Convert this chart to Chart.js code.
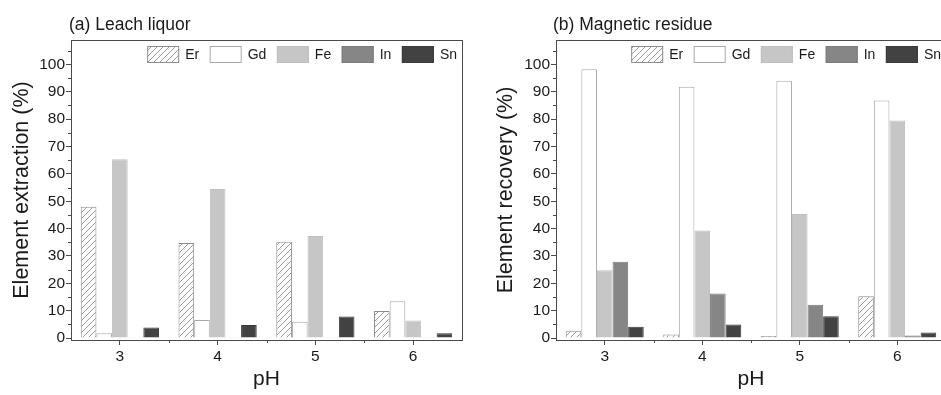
<!DOCTYPE html>
<html>
<head>
<meta charset="utf-8">
<script src="https://cdn.jsdelivr.net/npm/chart.js@4.4.1/dist/chart.umd.min.js"></script>
<style>
  html, body { margin: 0; padding: 0; background: #fff; overflow: hidden; }
  #wrap { position: relative; width: 941px; height: 395px; overflow: hidden; }
  .panel { position: absolute; top: 0; }
  .ttl { position: absolute; top: 14px; font: 17.5px 'Liberation Sans', Arial, sans-serif; color: #1a1a1a; line-height: 20px; white-space: nowrap; }
</style>
</head>
<body>
<div id="wrap">
  <canvas id="leach" class="panel" style="left:0px" width="470" height="395"></canvas>
  <canvas id="residue" class="panel" style="left:470px" width="480" height="395"></canvas>
  <div class="ttl" style="left:69px">(a) Leach liquor</div>
  <div class="ttl" style="left:553px">(b) Magnetic residue</div>
</div>
<script>
// pH values on the x axis and the element series
const phLabels = ['3', '4', '5', '6'];
const elementNames = ['Er', 'Gd', 'Fe', 'In', 'Sn'];
const yTicks = [0, 10, 20, 30, 40, 50, 60, 70, 80, 90, 100];
const yMinorTicks = [5, 15, 25, 35, 45, 55, 65, 75, 85, 95, 105];

// (a) Leach liquor, extraction %
const leachEr = [48.0, 34.7, 35.2, 9.9];
const leachGd = [1.8, 6.6, 6.0, 13.5];
const leachFe = [65.3, 54.5, 37.3, 6.4];
const leachIn = [0.3, 0.3, 0.3, 0.3];
const leachSn = [3.9, 4.8, 7.9, 1.8];

// (b) Magnetic residue, recovery %
const residueEr = [2.7, 1.3, 0.8, 15.3];
const residueGd = [98.2, 91.8, 94.0, 86.8];
const residueFe = [24.8, 39.3, 45.3, 79.5];
const residueIn = [27.9, 16.3, 12.2, 0.9];
const residueSn = [4.1, 5.0, 8.0, 2.0];

const FONT = "'Liberation Sans', Arial, sans-serif";
const AXIS = '#4a4a4a';
const TEXT = '#1a1a1a';

// diagonal hatch for Er
function hatch() {
    const c = document.createElement('canvas');
    c.width = 6; c.height = 6;
    const g = c.getContext('2d');
    g.fillStyle = '#fff';
    g.fillRect(0, 0, 6, 6);
    g.strokeStyle = '#9a9a9a';
    g.lineWidth = 1;
    g.beginPath();
    g.moveTo(0, 6); g.lineTo(6, 0);
    g.moveTo(-1, 1); g.lineTo(1, -1);
    g.moveTo(5, 7); g.lineTo(7, 5);
    g.stroke();
    return g.createPattern(c, 'repeat');
}

const barStyles = [
    { bg: hatch(), border: '#8c8c8c' },
    { bg: '#ffffff', border: '#a8a8a8' },
    { bg: '#c6c6c6', border: '#bfbfbf' },
    { bg: '#868686', border: '#7c7c7c' },
    { bg: '#424242', border: '#3a3a3a' }
];

// box around the plot + minor ticks
const framePlugin = {
    id: 'frame',
    afterDraw(chart) {
        const { ctx, chartArea: a, scales: { x, y } } = chart;
        ctx.save();
        ctx.strokeStyle = AXIS;
        ctx.lineWidth = 1;
        ctx.strokeRect(a.left + 0.5, a.top + 0.5, a.right - a.left, a.bottom - a.top);
        ctx.beginPath();
        yMinorTicks.forEach(v => {
            const py = Math.round(y.getPixelForValue(v)) + 0.5;
            ctx.moveTo(a.left - 3, py);
            ctx.lineTo(a.left, py);
        });
        for (let i = 0; i < phLabels.length - 1; i++) {
            const px = Math.round(x.getPixelForValue(i + 0.5)) + 0.5;
            ctx.moveTo(px, a.bottom);
            ctx.lineTo(px, a.bottom + 3);
        }
        ctx.stroke();
        ctx.restore();
    }
};

// legend drawn inside the plot, top right
const legendPlugin = {
    id: 'insideLegend',
    afterDatasetsDraw(chart) {
        const { ctx, chartArea: a } = chart;
        const sets = chart.data.datasets;
        const boxW = 32, boxH = 17, gapText = 6, gapItem = 10.5;
        ctx.save();
        ctx.font = '14px ' + FONT;
        let total = 0;
        sets.forEach((d, i) => {
            total += boxW + gapText + ctx.measureText(d.label).width + (i < sets.length - 1 ? gapItem : 0);
        });
        let xPos = a.right - 5 - total;
        const top = a.top + 6;
        sets.forEach(d => {
            ctx.fillStyle = d.backgroundColor;
            ctx.fillRect(xPos, top, boxW, boxH);
            ctx.strokeStyle = d.borderColor;
            ctx.lineWidth = 1;
            ctx.strokeRect(xPos + 0.5, top + 0.5, boxW - 1, boxH - 1);
            ctx.fillStyle = TEXT;
            ctx.textBaseline = 'middle';
            ctx.fillText(d.label, xPos + boxW + gapText, top + boxH / 2 + 1);
            xPos += boxW + gapText + ctx.measureText(d.label).width + gapItem;
        });
        ctx.restore();
    }
};

function makeChart(id, series, yTitle, yAxisWidth, yTitlePad, padRight) {
    return new Chart(document.getElementById(id), {
        type: 'bar',
        data: {
            labels: phLabels,
            datasets: series.map((vals, i) => ({
                label: elementNames[i],
                data: vals,
                backgroundColor: barStyles[i].bg,
                borderColor: barStyles[i].border,
                borderWidth: 1,
                categoryPercentage: 0.8,
                barPercentage: 1.0
            }))
        },
        options: {
            responsive: false,
            animation: false,
            layout: { padding: { top: 40, right: padRight, bottom: 0, left: 0 } },
            plugins: {
                legend: { display: false },
                tooltip: { enabled: false }
            },
            scales: {
                x: {
                    offset: true,
                    grid: { offset: false, drawOnChartArea: false, tickLength: 5, tickColor: AXIS },
                    border: { color: AXIS },
                    ticks: { color: TEXT, font: { family: FONT, size: 15.5 }, padding: 2, maxRotation: 0 },
                    title: { display: true, text: 'pH', color: TEXT, font: { family: FONT, size: 21 }, padding: { top: 0, bottom: 3 } },
                    afterFit(s) { s.height = 55; }
                },
                y: {
                    min: -0.7,
                    max: 108.9,
                    afterBuildTicks(s) { s.ticks = yTicks.map(v => ({ value: v })); },
                    grid: { drawOnChartArea: false, tickLength: 5, tickColor: AXIS },
                    border: { color: AXIS },
                    ticks: { color: TEXT, font: { family: FONT, size: 15.5 }, padding: 1 },
                    title: { display: true, text: yTitle, color: TEXT, font: { family: FONT, size: 21.5 }, padding: { top: yTitlePad, bottom: 0 } },
                    afterFit(s) { s.width = yAxisWidth; }
                }
            }
        },
        plugins: [framePlugin, legendPlugin]
    });
}

makeChart('leach', [leachEr, leachGd, leachFe, leachIn, leachSn], 'Element extraction (%)', 71, 9, 8);
makeChart('residue', [residueEr, residueGd, residueFe, residueIn, residueSn], 'Element recovery (%)', 86, 23, 4);
</script>
</body>
</html>
